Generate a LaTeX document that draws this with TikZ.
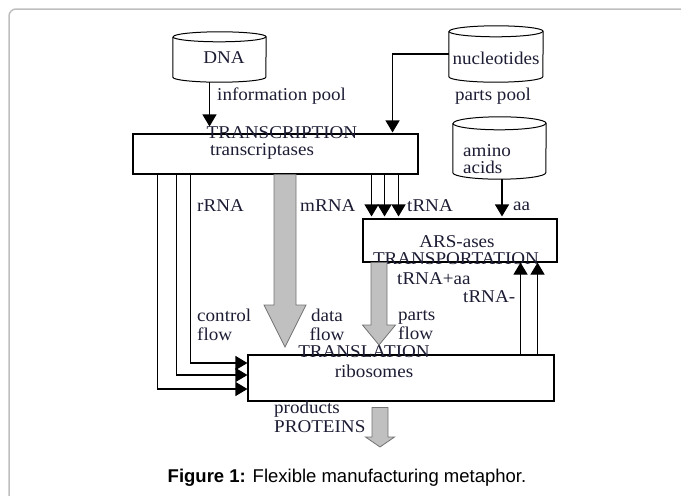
\documentclass[tikz,border=0pt]{standalone}
\usepackage{fontspec}
\setmainfont{Liberation Serif}[FakeStretch=1.06]
\newfontfamily\capfont{Liberation Sans}
\usetikzlibrary{calc, arrows.meta}

\definecolor{inkblue}{RGB}{28,28,52}
\definecolor{framegray}{RGB}{190,190,190}
\definecolor{fatfill}{RGB}{192,192,192}
\definecolor{fatedge}{RGB}{115,115,115}

% drum outline round a named node: node, half width, end radius
\newcommand{\drum}[3]{%
  \draw[line width=1pt] ([yshift=-#3]#1.north west) -- ([yshift=#3]#1.south west)
    arc[start angle=180, end angle=360, x radius=#2, y radius=#3]
    -- ([yshift=-#3]#1.north east)
    arc[start angle=0, end angle=180, x radius=#2, y radius=#3];
  \draw[line width=1pt] ([yshift=-#3]#1.north west)
    arc[start angle=180, end angle=360, x radius=#2, y radius=#3];}

% wide gray arrow: top, tip, half shaft, half head, head length
\newcommand{\fatarrow}[5]{%
  \filldraw[fill=fatfill, draw=fatedge, line width=0.8pt, line join=miter]
    ($(#1)+(-#3,0)$) -- ($(#2)+(-#3,-#5)$) -- ($(#2)+(-#4,-#5)$) -- (#2)
    -- ($(#2)+(#4,-#5)$) -- ($(#2)+(#3,-#5)$) -- ($(#1)+(#3,0)$) -- cycle;}

\begin{document}
\begin{tikzpicture}[x=1pt, y=-1pt,
    font=\fontsize{18}{19}\selectfont, text=inkblue,
    box/.style={draw, line width=1.1pt, inner sep=0pt},
    pool/.style={inner sep=0pt},
    lbl/.style={inner sep=0pt, anchor=west},
    flow/.style={-{Triangle[width=14pt,length=12pt]}, line width=1.1pt}]
  \useasboundingbox (0,0) rectangle (681,496);
  \draw[framegray, line width=1.5pt, rounded corners=7pt] (9,500) -- (9,9) -- (690,9);

  \node[pool, minimum width=93pt, minimum height=50pt] (dna) at (219.5,57) {};
  \node[pool, minimum width=94pt, minimum height=56pt] (nucl) at (496,54) {};
  \node[pool, minimum width=93pt, minimum height=62pt] (amino) at (499.5,148) {};
  \drum{dna}{46.5pt}{5pt}
  \drum{nucl}{47pt}{5.5pt}
  \drum{amino}{46.5pt}{6.5pt}
  \node[inner sep=0pt] (dnatxt) at (224,58) {DNA};
  \node[inner sep=0pt] (nucltxt) at (496,58) {nucleotides};
  \node[inner sep=0pt, align=left, anchor=north west, font=\fontsize{18}{17}\selectfont]
    (aminotxt) at (463,144) {amino\\acids};

  \node[box, minimum width=285pt, minimum height=40pt] (transc) at (275.5,154) {};
  \node[box, minimum width=194pt, minimum height=43pt] (ars) at (460,240.5) {};
  \node[box, minimum width=306pt, minimum height=46pt] (ribo) at (401,378) {};

  \node[inner sep=0pt] (transcap) at (282,133) {TRANSCRIPTION};
  \node[inner sep=0pt] (transcsub) at (262,151) {transcriptases};
  \node[inner sep=0pt] (arssub) at (457,242) {ARS-ases};
  \node[inner sep=0pt] (arscap) at (456,259) {TRANSPORTATION};
  \node[inner sep=0pt] (ribocap) at (364,352) {TRANSLATION};
  \node[inner sep=0pt] (ribosub) at (374,371) {ribosomes};

  \node[lbl] (infopool) at (217,96) {information pool};
  \node[inner sep=0pt] (partspool) at (493,96) {parts pool};
  \node[lbl] (rrna) at (197,206) {rRNA};
  \node[lbl] (mrna) at (300,206) {mRNA};
  \node[lbl] (trna) at (407,206) {tRNA};
  \node[lbl] (aa) at (513,206) {aa};
  \node[lbl] (trnaaa) at (397,279) {tRNA+aa};
  \node[lbl] (trnaminus) at (463,297) {tRNA-};
  \node[lbl, align=left] (ctrlflow) at (197,325) {control\\flow};
  \node[inner sep=0pt, align=center] (dataflow) at (327,325) {data\\flow};
  \node[lbl, align=left] (partsflow) at (398,325) {parts\\flow};
  \node[lbl, align=left] (products) at (274,417) {products\\PROTEINS};

  \draw[flow, shorten >=7pt] ([xshift=-10pt]dna.south) -- ([xshift=-10pt]dna.south |- transc.north);
  \draw[flow, shorten >=1pt] (nucl.west) -| ([xshift=-26pt]transc.north east);

  \draw[flow] ([xshift=25pt]transc.south west) |- ([yshift=-11pt]ribo.west);
  \draw[flow] ([xshift=44pt]transc.south west) |- ([yshift=3pt]ribo.west);
  \draw[flow] ([xshift=58pt]transc.south west) |- ([yshift=15pt]ribo.west);

  \draw[flow, shorten >=2pt] ([xshift=-47pt]transc.south east) -- ([xshift=-47pt]transc.south east |- ars.north);
  \draw[flow, shorten >=2pt] ([xshift=-34pt]transc.south east) -- ([xshift=-34pt]transc.south east |- ars.north);
  \draw[flow, shorten >=2pt] ([xshift=-20pt]transc.south east) -- ([xshift=-20pt]transc.south east |- ars.north);
  \draw[flow, shorten >=2pt] ([xshift=2.5pt]amino.south) -- ([xshift=2.5pt]amino.south |- ars.north);

  \draw[flow] ([xshift=-37pt]ars.south east |- ribo.north) -- ([xshift=-37pt]ars.south east);
  \draw[flow] ([xshift=-20pt]ars.south east |- ribo.north) -- ([xshift=-20pt]ars.south east);

  \coordinate (mtip) at (285,347);
  \coordinate (ptip) at (379,345);
  \coordinate (otip) at (380,447);
  \fatarrow{[xshift=9.5pt]transc.south}{mtip}{11}{21}{42}
  \fatarrow{[xshift=-81pt]ars.south}{ptip}{8}{16.5}{20}
  \fatarrow{[xshift=-21pt, yshift=-6pt]ribo.south}{otip}{8}{14.5}{10}

  \node[font=\capfont\fontsize{18.5}{20}\selectfont, text=black] (caption) at (347,478)
    {\textbf{Figure 1:} Flexible manufacturing metaphor.};
\end{tikzpicture}
\end{document}
